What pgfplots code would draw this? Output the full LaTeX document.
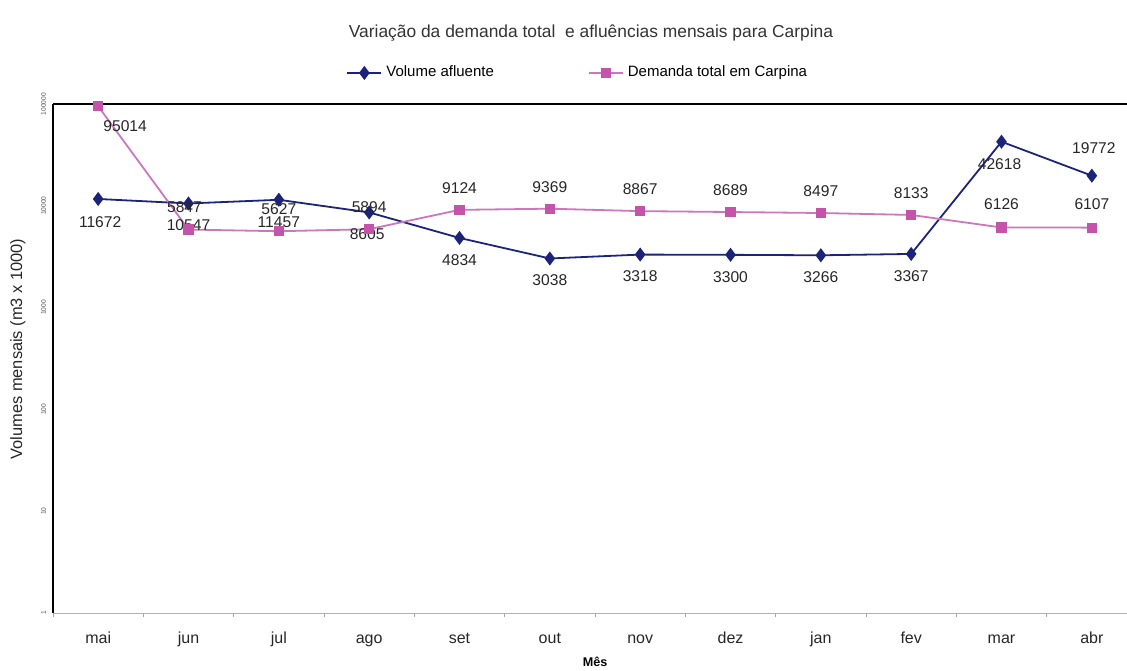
\documentclass[border=0pt]{standalone}
\usepackage{pgfplots}
\usepackage{pgfplotstable}
\pgfplotsset{compat=1.18}
\usepackage{fontspec}
\setmainfont{Liberation Sans}

\definecolor{afl}{RGB}{28,36,122}
\definecolor{dem}{RGB}{196,84,170}
\definecolor{demline}{RGB}{204,118,190}

% monthly volumes (m3 x 1000); dx/dy place each value label
\pgfplotstableread{
x y dx dy
0 11672 1 -11.5
1 10547 0 -11
2 11457 0 -11
3 8605 -1 -11
4 4834 0 -11
5 3038 0 -11
6 3318 0 -11
7 3300 0 -11
8 3266 0 -11
9 3367 0 -11
10 42618 -1 -11
11 19772 1 14
}\afluente

\pgfplotstableread{
x y dx dy
0 95014 13.5 -10
1 5847 -2 11
2 5627 0 11
3 5894 0 11
4 9124 0 11
5 9369 0 11
6 8867 0 11
7 8689 0 11
8 8497 0 11
9 8133 0 11
10 6126 0 11.5
11 6107 0 11.5
}\demanda

\pgfplotsset{
  /pgf/number format/assume math mode=true,
  valuelabels/.style={
    point meta=\thisrow{y},
    visualization depends on={\thisrow{dx} \as \dx},
    visualization depends on={\thisrow{dy} \as \dy},
    nodes near coords={\pgfmathprintnumber[fixed,precision=0,1000 sep={}]{\pgfplotspointmeta}},
    nodes near coords style={anchor=center, xshift=\dx pt, yshift=\dy pt,
      font=\fontsize{7.8}{9}\selectfont, text=black!85},
  },
}

\begin{document}
\begin{tikzpicture}
\useasboundingbox (0,0) rectangle (563.5pt,-335pt);
\node[font=\fontsize{8.7}{10}\selectfont, text=black!80] at (295.5pt,-16.5pt)
  {Variação da demanda total\ \ e afluências mensais para Carpina};
\node[rotate=90, font=\fontsize{8.2}{10}\selectfont, text=black!85] at (9pt,-174.5pt)
  {Volumes mensais (m3 x 1000)};
\node[font=\bfseries\fontsize{6.3}{8}\selectfont] at (297.5pt,-331pt) {Mês};
\begin{axis}[
  at={(26.5pt,-306.5pt)}, anchor=south west,
  width=542pt, height=254.5pt, scale only axis,
  xmin=-0.5, xmax=11.5,
  ymode=log, ymin=1, ymax=100000,
  axis line style={draw=none},
  clip=false,
  tick align=outside,
  xtick pos=lower, ytick pos=left,
  major tick length=0pt,
  minor tick length=2pt,
  xtick={0,...,11},
  xticklabels={mai,jun,jul,ago,set,out,nov,dez,jan,fev,mar,abr},
  minor xtick={-0.5,0.5,...,11.5},
  minor x tick style={gray!70, line width=0.4pt},
  xticklabel style={anchor=base, yshift=-15pt, font=\fontsize{8}{9}\selectfont, text=black!85},
  ytick={1,10,100,1000,10000,100000},
  yminorticks=false,
  log ticks with fixed point,
  /pgf/number format/1000 sep={},
  yticklabel style={rotate=90, anchor=south, font=\fontsize{3.3}{4}\selectfont, text=black!70},
  yticklabel shift=0pt,
  legend columns=2,
  legend cell align=left,
  legend style={at={(0.485,1.061)}, anchor=center, draw=none, fill=none,
    font=\fontsize{7.5}{9}\selectfont,
    /tikz/every even column/.append style={column sep=45pt}},
]
\draw[black, line width=1pt] (rel axis cs:0,1) -- (rel axis cs:1,1);
\draw[black, line width=1pt] (rel axis cs:0,0) -- (rel axis cs:0,1);
\draw[gray!60, line width=0.5pt] (rel axis cs:0,0) -- (rel axis cs:1,0);

\addplot[afl, line width=0.9pt, mark=diamond*, mark size=2.8pt,
  mark options={fill=afl, draw=afl}, valuelabels]
  table[x=x, y=y] {\afluente};
\addlegendentry{Volume afluente}

\addplot[demline, line width=0.9pt, mark=square*, mark size=2.1pt,
  mark options={fill=dem, draw=dem}, valuelabels]
  table[x=x, y=y] {\demanda};
\addlegendentry{Demanda total em Carpina}
\end{axis}
\end{tikzpicture}
\end{document}
